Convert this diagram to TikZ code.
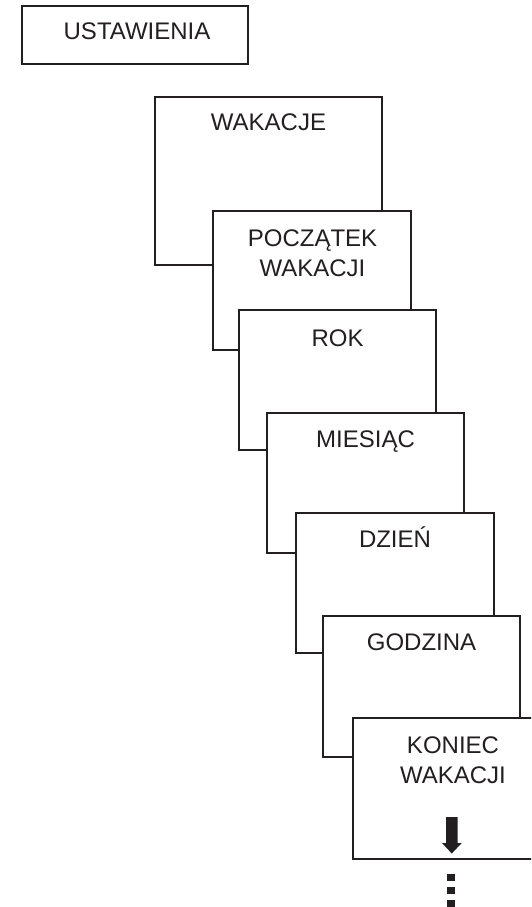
\documentclass[tikz,border=0pt]{standalone}
\usepackage{fontspec}
\setmainfont{Liberation Sans}
\definecolor{ink}{RGB}{35,31,32}
\begin{document}
\begin{tikzpicture}[x=1pt,y=-1pt,
	box/.style={draw=ink,fill=white,line width=1.6pt},
	txt/.style={anchor=base,align=center,text=ink,inner sep=0pt,font=\fontsize{24}{29.5}\selectfont}]
		\clip (0,0) rectangle (531,907);
		\fill[white] (0,0) rectangle (531,907);
		\draw[box] (22,6) rectangle (248,64);
		\node[txt] (ustawienia) at (137,40) {USTAWIENIA};
		\draw[box] (155,97) rectangle (382,265);
		\node[txt] (wakacje) at (268.5,130) {WAKACJE};
		\draw[box] (213,211) rectangle (411,350);
		\node[txt] (poczatek) at (312.5,276) {POCZĄTEK\\WAKACJI};
		\draw[box] (239,310) rectangle (436,450);
		\node[txt] (rok) at (337.5,346) {ROK};
		\draw[box] (267,413) rectangle (464,553);
		\node[txt] (miesiac) at (365.5,447) {MIESIĄC};
		\draw[box] (296,513) rectangle (494,653);
		\node[txt] (dzien) at (395,547) {DZIEŃ};
		\draw[box] (323,616) rectangle (520,757);
		\node[txt] (godzina) at (421.5,650) {GODZINA};
		\draw[box] (353,718) rectangle (552,859);
		\node[txt] (koniec) at (453,783) {KONIEC\\WAKACJI};
		\fill[ink] (446,817) -- (457.7,817) -- (457.7,843) -- (461.7,843) -- (451.8,853.5) -- (442,843) -- (446,843) -- cycle;
		\foreach \y in {874,887,900}
			\fill[ink] (447,\y) rectangle ++(8,7);
		\end{tikzpicture}
\end{document}
